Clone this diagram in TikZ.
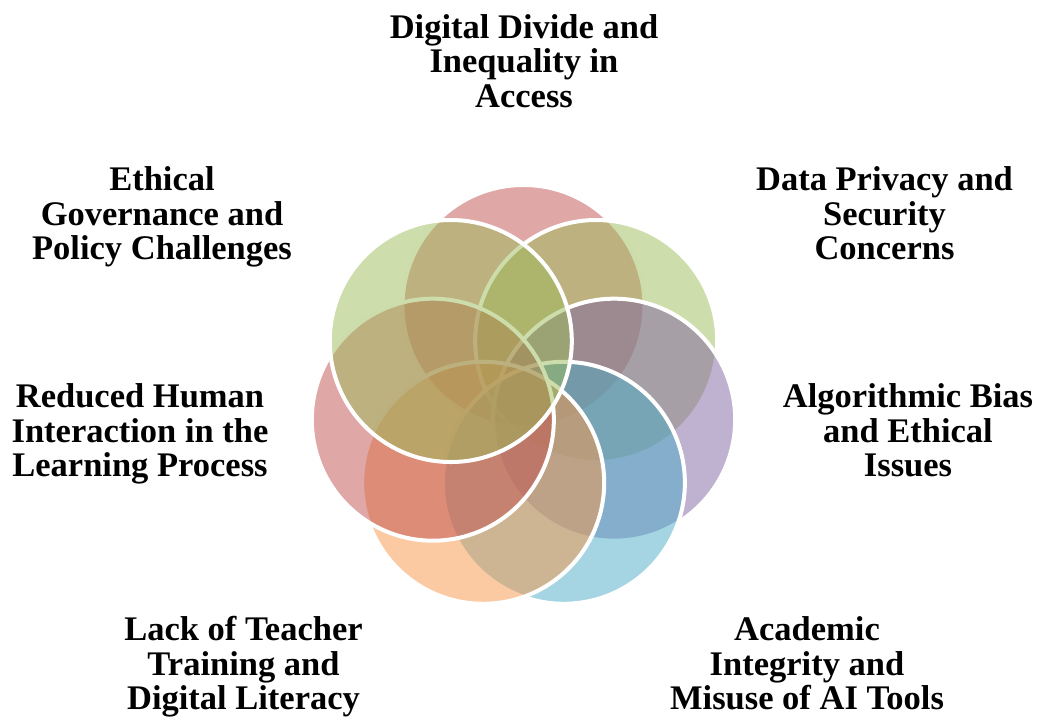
\documentclass[tikz,border=0pt]{standalone}
\usepackage{fontspec}
\setmainfont{Liberation Serif}
\usetikzlibrary{calc}
\definecolor{cred}{HTML}{C0504D}
\definecolor{cgreen}{HTML}{9BBB59}
\definecolor{cpurple}{HTML}{8064A2}
\definecolor{caqua}{HTML}{4BACC6}
\definecolor{corange}{HTML}{F79646}
\begin{document}
\begin{tikzpicture}[x=1pt,y=1pt,
  petal/.style={fill=#1, fill opacity=0.5, draw=white, draw opacity=1, line width=4pt},
  lbl/.style={align=center, anchor=base, inner sep=0pt, font=\bfseries\fontsize{34.5}{34.6}\selectfont}]
\useasboundingbox (0,0) rectangle (1040,719);
\coordinate (ring) at (523.5,320);
% circles, drawn in stacking order
\foreach \k/\c/\n in {0/cred/c0,1/cgreen/c1,2/cpurple/c2,3/caqua/c3,4/corange/c4,5/cred/c5,6/cgreen/c6}{
  \path[petal=\c] ($(ring)+({93*cos(90-\k*360/7)},{93*sin(90-\k*360/7)})$) coordinate (\n) circle [radius=121pt];
}
% labels (anchor = baseline of last line)
\node[lbl] (t0) at (524,719-107.5) {Digital Divide and\\Inequality in\\Access};
\node[lbl] (t1) at (884.5,719-260) {Data Privacy and\\Security\\Concerns};
\node[lbl] (t2) at (908,719-477) {Algorithmic Bias\\and Ethical\\Issues};
\node[lbl] (t3) at (807,719-710) {Academic\\Integrity and\\Misuse of AI Tools};
\node[lbl] (t4) at (243.5,719-710) {Lack of Teacher\\Training and\\Digital Literacy};
\node[lbl] (t5) at (140,719-477) {Reduced Human\\Interaction in the\\Learning Process};
\node[lbl] (t6) at (162,719-260) {Ethical\\Governance and\\Policy Challenges};
\end{tikzpicture}
\end{document}
